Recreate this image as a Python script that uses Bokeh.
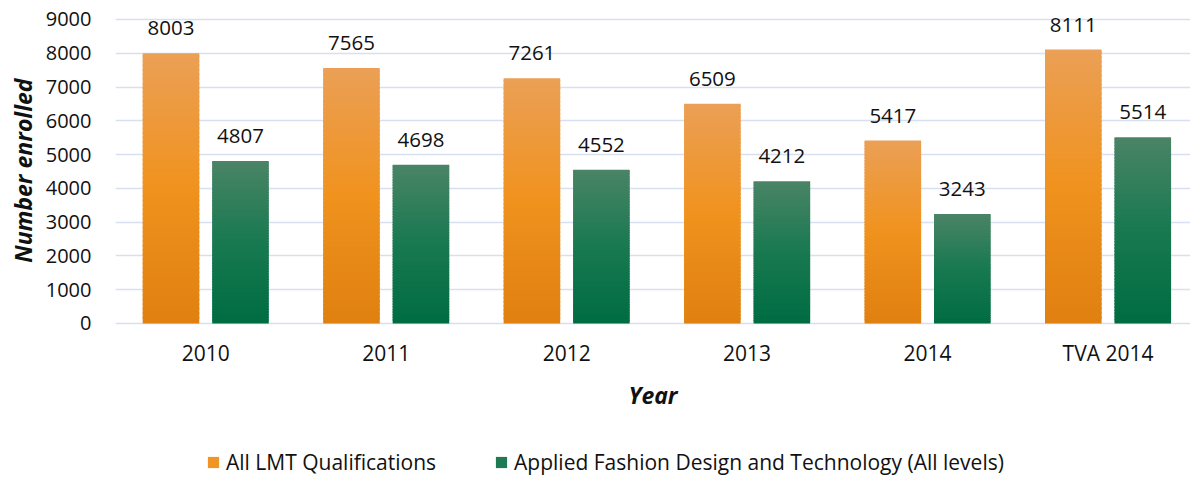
from bokeh.plotting import figure
from bokeh.models import Range1d, FixedTicker, ColumnDataSource, LabelSet, Legend, LegendItem, Title
from bokeh.core.properties import value
from bokeh.embed import file_html
from bokeh.resources import INLINE

# ---- data ----
years = ["2010", "2011", "2012", "2013", "2014", "TVA 2014"]
all_lmt = [8003, 7565, 7261, 6509, 5417, 8111]
afdt = [4807, 4698, 4552, 4212, 3243, 5514]
series_names = ["All LMT Qualifications",
                "Applied Fashion Design and Technology (All levels)"]
y_ticks = [0, 1000, 2000, 3000, 4000, 5000, 6000, 7000, 8000, 9000]

FONT = "Open Sans"
TXT = "#111111"

# gradient stops (top, middle, bottom)
orange_stops = [(235, 160, 86), (240, 146, 30), (223, 128, 16)]
green_stops = [(74, 132, 102), (24, 121, 80), (0, 108, 66)]


def grad(stops, t):
    # t = 0 at top, 1 at bottom
    if t <= 0.5:
        a, b, u = stops[0], stops[1], t / 0.5
    else:
        a, b, u = stops[1], stops[2], (t - 0.5) / 0.5
    c = tuple(int(round(a[i] + (b[i] - a[i]) * u)) for i in range(3))
    return "#%02x%02x%02x" % c


# frame spans from near the top of the canvas down to its bottom;
# the x axis is pinned at y=0 inside the frame
p = figure(width=1190, height=476, output_backend="svg", toolbar_location=None,
           x_range=Range1d(0, 5.957), y_range=Range1d(-4530, 9118),
           min_border_left=107, min_border_right=0, min_border_top=15,
           min_border_bottom=0)
p.outline_line_color = None
p.xgrid.visible = False
p.ygrid.ticker = FixedTicker(ticks=y_ticks)
p.ygrid.grid_line_color = "#D6E0F0"
p.ygrid.grid_line_width = 1.6

BW = 0.3135
OFF = 0.1925
N = 60

legend_renderers = []
for vals, stops, sgn in [(all_lmt, orange_stops, -1), (afdt, green_stops, 1)]:
    xs, bots, tops, cols = [], [], [], []
    for i, v in enumerate(vals):
        for k in range(N):
            xs.append(i + 0.5 + sgn * OFF)
            bots.append(v * k / N)
            tops.append(v * min(k + 1.6, N) / N)
            cols.append(grad(stops, 1 - (k + 0.5) / N))
    src = ColumnDataSource(dict(x=xs, bottom=bots, top=tops, c=cols))
    r = p.vbar(x="x", bottom="bottom", top="top", width=BW, source=src,
               fill_color="c", line_color=None)
    legend_renderers.append(r)

    lsrc = ColumnDataSource(dict(x=[i + 0.5 + sgn * OFF for i in range(len(vals))],
                                 y=vals, t=[str(v) for v in vals]))
    p.add_layout(LabelSet(x="x", y="y", text="t", source=lsrc, y_offset=18,
                          text_align="center", text_baseline="alphabetic",
                          text_font=value(FONT), text_font_size=value("20.5px"),
                          text_color=TXT))

legend = Legend(items=[LegendItem(label=series_names[0], renderers=[legend_renderers[0]], index=int(N * 0.55)),
                       LegendItem(label=series_names[1], renderers=[legend_renderers[1]], index=int(N * 0.55))],
                orientation="horizontal", location=(91, 0),
                glyph_width=14, glyph_height=14, label_standoff=6, spacing=58,
                padding=0, margin=0, border_line_color=None,
                background_fill_alpha=0,
                label_text_font=FONT, label_text_font_size="21px",
                label_text_color=TXT)
p.add_layout(legend, "center")

# y axis
ya = p.yaxis[0]
ya.ticker = FixedTicker(ticks=y_ticks)
ya.axis_line_color = None
ya.major_tick_line_color = None
ya.minor_tick_line_color = None
ya.major_tick_out = 0
ya.major_label_standoff = 24
ya.major_label_text_font = FONT
ya.major_label_text_font_size = "20px"
ya.major_label_text_color = TXT

# y axis title, placed along the upper (data) part of the frame
ytitle = Title(text="Number enrolled", align="right", offset=63, standoff=8,
               text_font=FONT, text_font_size="23px", text_font_style="bold italic",
               text_color=TXT)
p.add_layout(ytitle, "left")

# x axis, pinned at y = 0
xa = p.xaxis[0]
xa.fixed_location = 0
xa.ticker = FixedTicker(ticks=[i + 0.5 for i in range(len(years))])
xa.major_label_overrides = {i + 0.5: y for i, y in enumerate(years)}
xa.axis_line_color = None
xa.major_tick_line_color = None
xa.minor_tick_line_color = None
xa.major_tick_out = 0
xa.major_label_standoff = 16
xa.major_label_text_font = FONT
xa.major_label_text_font_size = "21px"
xa.major_label_text_color = TXT
xa.axis_label = "Year"
xa.axis_label_text_font = FONT
xa.axis_label_text_font_size = "23px"
xa.axis_label_text_font_style = "bold italic"
xa.axis_label_text_color = TXT
xa.axis_label_standoff = 8

open("out.html", "w").write(file_html(p, INLINE))
